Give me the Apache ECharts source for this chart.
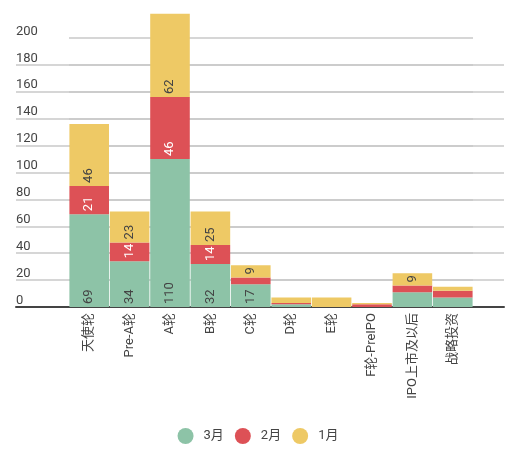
<!DOCTYPE html>
<html>
<head>
<meta charset="utf-8">
<script src="https://cdn.jsdelivr.net/npm/echarts@6/dist/echarts.min.js"></script>
<style>
html, body { margin: 0; padding: 0; background: #fff; }
#chart-rounds { width: 516px; height: 455px; }
</style>
</head>
<body>
<div id="chart-rounds"></div>
<script>
var categories = ['天使轮', 'Pre-A轮', 'A轮', 'B轮', 'C轮', 'D轮', 'E轮', 'F轮-PreIPO', 'IPO上市及以后', '战略投资'];
var seriesNames = ['3月', '2月', '1月'];
var march = [69, 34, 110, 32, 17, 2, 0, 0, 11, 7];
var february = [21, 14, 46, 14, 5, 1, 0, 2, 5, 5];
var january = [46, 23, 62, 25, 9, 4, 7, 1, 9, 3];
var yMax = 220;
var tickMax = 200;

var font = 'Roboto, "Noto Sans CJK SC", sans-serif';
var baseY = 307;
var plotH = 296;
var pxPerUnit = plotH / yMax;

// only print the number when it fits inside its segment
function fitLabel(p) {
    var need = String(p.value).length * 7.5 + 3;
    return p.value * pxPerUnit >= need ? p.value : '';
}

function barSeries(name, data, color, labelColor) {
    return {
        name: name,
        type: 'bar',
        stack: 'total',
        xAxisIndex: 1,
        yAxisIndex: 1,
        barCategoryGap: '2%',
        data: data,
        itemStyle: { color: color },
        label: {
            show: true,
            position: 'insideBottom',
            rotate: 90,
            align: 'left',
            verticalAlign: 'middle',
            distance: 3,
            fontSize: 13,
            fontFamily: font,
            color: labelColor,
            formatter: fitLabel
        },
        emphasis: { disabled: true }
    };
}

var gridLine = { show: true, showMaxLine: false, lineStyle: { color: '#c8c8c8', width: 1.5 } };

var chart = echarts.init(document.getElementById('chart-rounds'));
var option = {
    animation: false,
    textStyle: { fontFamily: font },
    legend: {
        data: seriesNames,
        bottom: 6,
        left: 'center',
        icon: 'circle',
        itemWidth: 16,
        itemHeight: 16,
        itemGap: 11,
        textStyle: { fontSize: 13, color: '#444', fontFamily: font, padding: [0, 0, 0, 5] }
    },
    grid: [
        // full-width background grid: y labels, gridlines up to 200, baseline
        { left: 16, right: 12, top: baseY - tickMax * pxPerUnit, height: tickMax * pxPerUnit },
        // bars
        { left: 69, width: 404, top: baseY - plotH, height: plotH }
    ],
    xAxis: [
        {
            gridIndex: 0,
            type: 'category',
            data: categories,
            axisLine: { show: true, lineStyle: { color: '#444', width: 2 } },
            axisTick: { show: false },
            axisLabel: { show: false },
            splitLine: { show: false }
        },
        {
            gridIndex: 1,
            type: 'category',
            data: categories,
            axisLine: { show: false },
            axisTick: { show: false },
            axisLabel: {
                rotate: 90,
                margin: 6,
                fontSize: 13,
                color: '#444',
                fontFamily: font,
                interval: 0
            }
        }
    ],
    yAxis: [
        {
            gridIndex: 0,
            type: 'value',
            min: 0,
            max: tickMax,
            interval: 20,
            axisLine: { show: false },
            axisTick: { show: false },
            axisLabel: {
                inside: true,
                margin: 0,
                align: 'left',
                verticalAlign: 'bottom',
                fontSize: 13,
                color: '#444',
                fontFamily: font
            },
            splitLine: gridLine
        },
        {
            gridIndex: 1,
            type: 'value',
            min: 0,
            max: yMax,
            interval: 20,
            axisLine: { show: false },
            axisTick: { show: false },
            axisLabel: { show: false },
            splitLine: gridLine
        }
    ],
    series: [
        // invisible helper so the background grid's axes carry data
        {
            type: 'line',
            xAxisIndex: 0,
            yAxisIndex: 0,
            data: march,
            symbol: 'none',
            silent: true,
            lineStyle: { opacity: 0, width: 0 },
            z: 0
        },
        barSeries(seriesNames[0], march, '#8dc3a7', '#444'),
        barSeries(seriesNames[1], february, '#dd5156', '#fff'),
        barSeries(seriesNames[2], january, '#eec965', '#444')
    ]
};
chart.setOption(option);
</script>
</body>
</html>
